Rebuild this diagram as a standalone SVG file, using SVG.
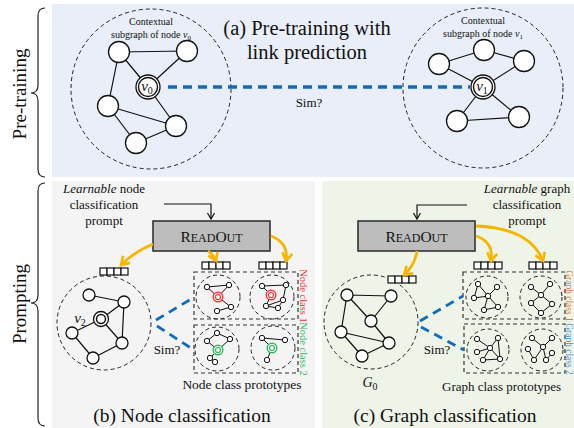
<svg xmlns="http://www.w3.org/2000/svg" width="574" height="428" viewBox="0 0 574 428">
<style>
.serif{font-family:"Liberation Serif","Times New Roman",serif;fill:#111}
.nd{fill:#fff;stroke:#111;stroke-width:1.3}
.sn{fill:#fff;stroke:#111;stroke-width:1}
.e{stroke:#111;stroke-width:1.2;fill:none}
.es{stroke:#111;stroke-width:1;fill:none}
.dc{fill:none;stroke:#222;stroke-width:1;stroke-dasharray:4 3}
.box{fill:none;stroke:#333;stroke-width:1.2;stroke-dasharray:4 3}
.blue{stroke:#0f6cbd;fill:none;stroke-dasharray:9 6}
.org{stroke:#f7b500;stroke-width:2.8;fill:none}
.tok{fill:#fff;stroke:#111;stroke-width:1.2}
.brace{fill:none;stroke:#222;stroke-width:1.2}
.ro{fill:#bdbdbd;stroke:#333;stroke-width:1.6}
</style>
<defs>
<marker id="oa" markerUnits="userSpaceOnUse" markerWidth="14" markerHeight="14" refX="9" refY="6" orient="auto">
<path d="M1,1 L9,6 L1,11" fill="none" stroke="#f7b500" stroke-width="2.6"/>
</marker>
<marker id="ka" markerUnits="userSpaceOnUse" markerWidth="10" markerHeight="10" refX="7" refY="4" orient="auto">
<path d="M1,0.5 L7,4 L1,7.5" fill="none" stroke="#111" stroke-width="1.2"/>
</marker>
<g id="tokbar">
<rect class="tok" x="0" y="0" width="7" height="7"/><rect class="tok" x="7" y="0" width="7" height="7"/><rect class="tok" x="14" y="0" width="7" height="7"/><rect class="tok" x="21" y="0" width="7" height="7"/>
</g>
</defs>

<g font-family="Liberation Serif, Times New Roman, serif">
<!-- panels -->
<rect x="52" y="4" width="522" height="173" fill="#e9eef8"/>
<rect x="52" y="181" width="263" height="247" fill="#f4f4f4"/>
<rect x="322" y="181" width="252" height="247" fill="#eef5e8"/>

<!-- braces & side labels -->
<path class="brace" d="M45,8 Q38,8 38,16 L38,85 Q38,93 31,93 Q38,93 38,101 L38,169 Q38,177 45,177"/>
<path class="brace" d="M45,183 Q38,183 38,191 L38,295 Q38,303 31,303 Q38,303 38,311 L38,418 Q38,426 45,426"/>
<text class="serif" font-size="19" text-anchor="middle" transform="translate(26,94) rotate(-90)">Pre-training</text>
<text class="serif" font-size="19" text-anchor="middle" transform="translate(26,304) rotate(-90)">Prompting</text>

<!-- (a) pre-training -->
<g id="ctx0">
<circle class="dc" cx="151" cy="89" r="80"/>
<text class="serif" font-size="10" x="151" y="25" text-anchor="middle" fill="#333">Contextual</text>
<text class="serif" font-size="10" x="151" y="38" text-anchor="middle" fill="#333">subgraph of node <tspan font-style="italic">v</tspan><tspan font-size="7" dy="2">0</tspan></text>
<path class="e" d="M119,52 L187,51 M119,52 L148,87 M187,51 L148,87 M119,52 L108,106 M148,87 L176,126 M108,106 L176,126 M108,106 L136,143 M136,143 L176,126"/>
<circle class="nd" cx="119" cy="52" r="10.5"/>
<circle class="nd" cx="187" cy="51" r="10.5"/>
<circle class="nd" cx="108" cy="106" r="10.5"/>
<circle class="nd" cx="176" cy="126" r="10.5"/>
<circle class="nd" cx="136" cy="143" r="10.5"/>
<circle class="nd" cx="148" cy="87" r="12" stroke-width="1.6"/>
<circle fill="none" stroke="#111" stroke-width="1.4" cx="148" cy="87" r="9.5"/>
<text class="serif" font-size="15" font-style="italic" x="147" y="91" text-anchor="middle">v<tspan font-size="10" font-style="normal" dy="3">0</tspan></text>
</g>
<g id="ctx1">
<circle class="dc" cx="483" cy="88" r="80"/>
<text class="serif" font-size="10" x="483" y="24" text-anchor="middle" fill="#333">Contextual</text>
<text class="serif" font-size="10" x="483" y="37" text-anchor="middle" fill="#333">subgraph of node <tspan font-style="italic">v</tspan><tspan font-size="7" dy="2">1</tspan></text>
<path class="e" d="M439,64 L484,50 M484,50 L524,61 M439,64 L483,87 M524,61 L483,87 M483,87 L457,121 M483,87 L519,117 M457,121 L519,117"/>
<circle class="nd" cx="439" cy="64" r="10.5"/>
<circle class="nd" cx="484" cy="50" r="10.5"/>
<circle class="nd" cx="524" cy="61" r="10.5"/>
<circle class="nd" cx="457" cy="121" r="10.5"/>
<circle class="nd" cx="519" cy="117" r="10.5"/>
<circle class="nd" cx="483" cy="87" r="12" stroke-width="1.6"/>
<circle fill="none" stroke="#111" stroke-width="1.4" cx="483" cy="87" r="9.5"/>
<text class="serif" font-size="15" font-style="italic" x="482" y="91" text-anchor="middle">v<tspan font-size="10" font-style="normal" dy="3">1</tspan></text>
</g>
<text class="serif" font-size="20.5" x="307" y="35" text-anchor="middle">(a) Pre-training with</text>
<text class="serif" font-size="20.5" x="307" y="59" text-anchor="middle">link prediction</text>

<!-- (b) node classification -->
<g id="prompt-b">
<text class="serif" font-size="13" x="104" y="193" text-anchor="middle"><tspan font-style="italic">Learnable</tspan> node</text>
<text class="serif" font-size="13" x="104" y="209" text-anchor="middle">classification</text>
<text class="serif" font-size="13" x="104" y="225" text-anchor="middle">prompt</text>
</g>
<g id="readout-b">
<rect class="ro" x="153" y="221" width="117" height="30"/>
<text class="serif" x="211.5" y="242" text-anchor="middle"><tspan font-size="15.5">R</tspan><tspan font-size="12">EAD</tspan><tspan font-size="15.5">O</tspan><tspan font-size="12">UT</tspan></text>
</g>
<g id="graph-v2">
<circle class="dc" cx="104" cy="323" r="47"/>
<path class="e" d="M89,295 L124,302 M124,302 L101,319 M124,302 L122,343 M101,319 L72,333 M101,319 L122,343 M72,333 L93,358 M93,358 L122,343"/>
<circle class="nd" cx="89" cy="295" r="6"/>
<circle class="nd" cx="124" cy="302" r="6"/>
<circle class="nd" cx="72" cy="333" r="6"/>
<circle class="nd" cx="122" cy="343" r="6"/>
<circle class="nd" cx="93" cy="358" r="6"/>
<circle class="nd" cx="101" cy="319" r="7.5" stroke-width="1.6"/>
<circle fill="none" stroke="#111" stroke-width="1.5" cx="101" cy="319" r="4.5"/>
<text class="serif" font-size="15" font-style="italic" x="80" y="323" text-anchor="middle">v<tspan font-size="10" font-style="normal" dy="3">2</tspan></text>
</g>
<use href="#tokbar" x="100" y="268"/>
<use href="#tokbar" x="202" y="262"/>
<use href="#tokbar" x="259" y="262"/>
<g id="node-class-1">
<rect class="box" x="194" y="272" width="104" height="47"/>
<circle class="dc" cx="218" cy="297" r="22"/>
<circle class="dc" cx="272" cy="297" r="22"/>
<path class="es" d="M207,287 L229,285 M207,287 L218,297 M229,285 L218,297 M218,297 L231,307 M231,307 L217,311"/>
<circle class="sn" cx="207" cy="287" r="2.7"/><circle class="sn" cx="229" cy="285" r="2.7"/><circle class="sn" cx="231" cy="307" r="2.7"/><circle class="sn" cx="217" cy="311" r="2.7"/>
<circle fill="#fff" stroke="#ff3030" stroke-width="1.4" cx="218" cy="297" r="4.8"/><circle fill="none" stroke="#ff3030" stroke-width="1.2" cx="218" cy="297" r="2.5"/>
<path class="es" d="M262,286 L286,285 M262,286 L271,295 M286,285 L283,300 M271,295 L266,306 M283,300 L266,306 M283,300 L278,308 M266,306 L278,308"/>
<circle class="sn" cx="262" cy="286" r="2.7"/><circle class="sn" cx="286" cy="285" r="2.7"/><circle class="sn" cx="283" cy="300" r="2.7"/><circle class="sn" cx="266" cy="306" r="2.7"/><circle class="sn" cx="278" cy="308" r="2.7"/>
<circle fill="#fff" stroke="#ff3030" stroke-width="1.4" cx="271" cy="295" r="4.8"/><circle fill="none" stroke="#ff3030" stroke-width="1.2" cx="271" cy="295" r="2.5"/>
<text font-size="10.5" fill="#ff3030" text-anchor="middle" transform="translate(300,296) rotate(90)">Node class 1</text>
</g>
<g id="node-class-2">
<rect class="box" x="194" y="325" width="104" height="48"/>
<circle class="dc" cx="217" cy="349" r="22"/>
<circle class="dc" cx="273" cy="348" r="22"/>
<path class="es" d="M207,341 L217,333 M217,333 L230,339 M230,339 L218,350 M207,341 L218,350 M218,350 L210,358 M210,358 L215,362"/>
<circle class="sn" cx="207" cy="341" r="2.7"/><circle class="sn" cx="217" cy="333" r="2.7"/><circle class="sn" cx="230" cy="339" r="2.7"/><circle class="sn" cx="210" cy="358" r="2.7"/><circle class="sn" cx="215" cy="362" r="2.7"/>
<circle fill="#fff" stroke="#2ebd5c" stroke-width="1.4" cx="218" cy="350" r="4.8"/><circle fill="none" stroke="#2ebd5c" stroke-width="1.2" cx="218" cy="350" r="2.5"/>
<path class="es" d="M262,338 L285,340 M262,338 L272,348 M272,348 L267,360"/>
<circle class="sn" cx="262" cy="338" r="2.7"/><circle class="sn" cx="285" cy="340" r="2.7"/><circle class="sn" cx="267" cy="360" r="2.7"/>
<circle fill="#fff" stroke="#2ebd5c" stroke-width="1.4" cx="272" cy="348" r="4.8"/><circle fill="none" stroke="#2ebd5c" stroke-width="1.2" cx="272" cy="348" r="2.5"/>
<text font-size="10.5" fill="#2ebd5c" text-anchor="middle" transform="translate(300,349) rotate(90)">Node class 2</text>
</g>
<text class="serif" font-size="13" x="167" y="354" text-anchor="middle">Sim?</text>
<text class="serif" font-size="13.5" x="242" y="389" text-anchor="middle">Node class prototypes</text>
<text class="serif" font-size="19.5" x="182" y="422" text-anchor="middle">(b) Node classification</text>

<!-- (c) graph classification -->
<g id="prompt-c">
<text class="serif" font-size="13" x="527" y="193" text-anchor="middle"><tspan font-style="italic">Learnable</tspan> graph</text>
<text class="serif" font-size="13" x="527" y="209" text-anchor="middle">classification</text>
<text class="serif" font-size="13" x="527" y="225" text-anchor="middle">prompt</text>
</g>
<g id="readout-c">
<rect class="ro" x="358" y="221" width="117" height="30"/>
<text class="serif" x="416.5" y="242" text-anchor="middle"><tspan font-size="15.5">R</tspan><tspan font-size="12">EAD</tspan><tspan font-size="15.5">O</tspan><tspan font-size="12">UT</tspan></text>
</g>
<g id="graph-g0">
<circle class="dc" cx="371" cy="322" r="47"/>
<path class="e" d="M347,295 L391,296 M347,295 L371,321 M391,296 L371,321 M347,295 L341,332 M371,321 L389,343 M341,332 L389,343 M341,332 L362,356 M362,356 L389,343"/>
<circle class="nd" cx="347" cy="295" r="6"/>
<circle class="nd" cx="391" cy="296" r="6"/>
<circle class="nd" cx="371" cy="321" r="6"/>
<circle class="nd" cx="341" cy="332" r="6"/>
<circle class="nd" cx="389" cy="343" r="6"/>
<circle class="nd" cx="362" cy="356" r="6"/>
<text class="serif" font-size="14" font-style="italic" x="370" y="387" text-anchor="middle">G<tspan font-size="10" font-style="normal" dy="3">0</tspan></text>
</g>
<use href="#tokbar" x="388" y="276"/>
<use href="#tokbar" x="474" y="262"/>
<use href="#tokbar" x="529" y="262"/>
<g id="graph-class-1">
<rect class="box" x="463" y="272" width="102" height="47"/>
<circle class="dc" cx="487" cy="297" r="21" fill="#f9dccb"/>
<circle class="dc" cx="541" cy="297" r="21" fill="#f9dccb"/>
<path class="es" d="M478,284 L488,296 M497,287 L488,296 M474,298 L488,296 M478,284 L474,298 M488,296 L498,307 M488,296 L484,310 M484,310 L498,307"/>
<circle class="sn" cx="478" cy="284" r="2.7"/><circle class="sn" cx="497" cy="287" r="2.7"/><circle class="sn" cx="474" cy="298" r="2.7"/><circle class="sn" cx="488" cy="296" r="2.7"/><circle class="sn" cx="498" cy="307" r="2.7"/><circle class="sn" cx="484" cy="310" r="2.7"/>
<path class="es" d="M531,287 L541,295 M550,284 L541,295 M541,295 L531,303 M541,295 L552,304 M531,303 L541,313 M552,304 L541,313"/>
<circle class="sn" cx="531" cy="287" r="2.7"/><circle class="sn" cx="550" cy="284" r="2.7"/><circle class="sn" cx="541" cy="295" r="2.7"/><circle class="sn" cx="531" cy="303" r="2.7"/><circle class="sn" cx="552" cy="304" r="2.7"/><circle class="sn" cx="541" cy="313" r="2.7"/>
<text font-size="9.5" fill="#e07b35" text-anchor="middle" transform="translate(566,296) rotate(90)">Graph class 1</text>
</g>
<g id="graph-class-2">
<rect class="box" x="464" y="324" width="101" height="49"/>
<circle class="dc" cx="488" cy="350" r="21" fill="#d6e2f3"/>
<circle class="dc" cx="542" cy="350" r="21" fill="#d6e2f3"/>
<path class="es" d="M477,339 L490,348 M498,338 L490,348 M477,352 L490,348 M490,348 L483,360 M490,348 L500,359 M498,338 L500,359 M483,360 L500,359"/>
<circle class="sn" cx="477" cy="339" r="2.7"/><circle class="sn" cx="498" cy="338" r="2.7"/><circle class="sn" cx="490" cy="348" r="2.7"/><circle class="sn" cx="477" cy="352" r="2.7"/><circle class="sn" cx="483" cy="360" r="2.7"/><circle class="sn" cx="500" cy="359" r="2.7"/>
<path class="es" d="M532,338 L543,347 M552,338 L543,347 M543,347 L546,360 M543,347 L534,360 M528,349 L534,360 M546,360 L552,353"/>
<circle class="sn" cx="532" cy="338" r="2.7"/><circle class="sn" cx="552" cy="338" r="2.7"/><circle class="sn" cx="543" cy="347" r="2.7"/><circle class="sn" cx="528" cy="349" r="2.7"/><circle class="sn" cx="534" cy="360" r="2.7"/><circle class="sn" cx="546" cy="360" r="2.7"/><circle class="sn" cx="552" cy="353" r="2.7"/>
<text font-size="9.5" fill="#4a90d0" text-anchor="middle" transform="translate(566,349) rotate(90)">Graph class 2</text>
</g>
<text class="serif" font-size="13" x="437" y="354" text-anchor="middle">Sim?</text>
<text class="serif" font-size="13" x="442" y="391">Graph class prototypes</text>
<text class="serif" font-size="19.5" x="445" y="422" text-anchor="middle">(c) Graph classification</text>

<!-- connectors -->
<g id="connectors">
<path class="blue" stroke-width="3.4" stroke-dasharray="12 7" d="M168,87 L470,87"/>
<text class="serif" font-size="13" x="309" y="107" text-anchor="middle">Sim?</text>
<path class="blue" stroke-width="2.8" stroke-dasharray="8 5" d="M156,320 L193,298"/>
<path class="blue" stroke-width="2.8" stroke-dasharray="8 5" d="M157,326 L194,350"/>
<path class="blue" stroke-width="2.8" stroke-dasharray="8 5" d="M420,321 L463,296"/>
<path class="blue" stroke-width="2.8" stroke-dasharray="8 5" d="M421,327 L464,350"/>
<path fill="none" stroke="#111" stroke-width="1.2" d="M164,204 L211,204 L211,219" marker-end="url(#ka)"/>
<path fill="none" stroke="#111" stroke-width="1.2" d="M467,205 L417,205 L417,219" marker-end="url(#ka)"/>
<path class="org" d="M153,244 Q134,252 121,265" marker-end="url(#oa)"/>
<path class="org" d="M208,251 Q213,254 216,261" marker-end="url(#oa)"/>
<path class="org" d="M271,236 Q289,243 286,261" marker-end="url(#oa)"/>
<path class="org" d="M417,251 Q415,265 404,275" marker-end="url(#oa)"/>
<path class="org" d="M476,236 Q494,242 491,261" marker-end="url(#oa)"/>
<path class="org" d="M476,226 Q530,228 543,261" marker-end="url(#oa)"/>
</g>
</g>
</svg>
